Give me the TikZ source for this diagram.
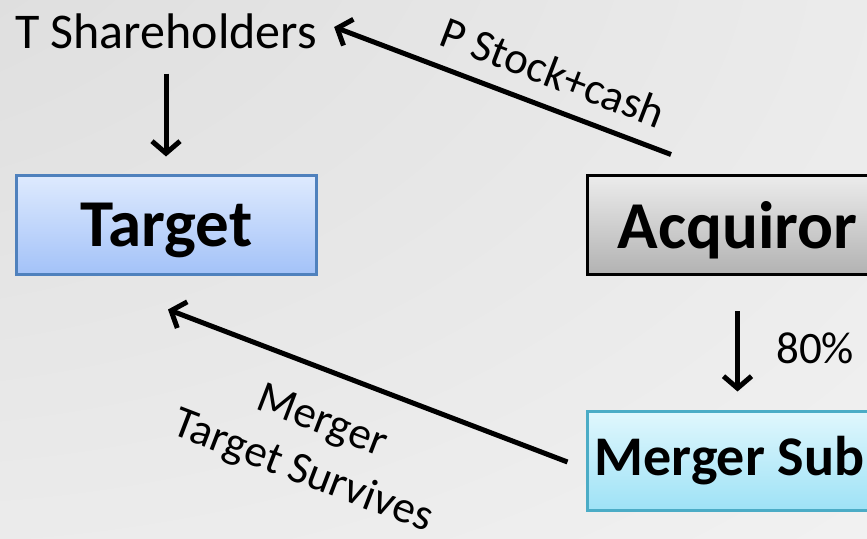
\documentclass[tikz,border=0pt]{standalone}
\usepackage{fontspec}
\setmainfont{Carlito}
\usetikzlibrary{arrows.meta}

\definecolor{tgtline}{RGB}{79,129,189}
\definecolor{tgttop}{RGB}{222,234,254}
\definecolor{tgtbot}{RGB}{163,194,248}
\definecolor{acqtop}{RGB}{236,236,236}
\definecolor{acqbot}{RGB}{178,178,178}
\definecolor{subline}{RGB}{75,172,198}
\definecolor{subtop}{RGB}{224,247,253}
\definecolor{subbot}{RGB}{158,226,246}

% grey glow, darkest in the upper left corner
\pgfdeclareradialshading{bgglow}{\pgfpoint{-50bp}{50bp}}{%
rgb(0bp)=(0.84,0.84,0.84); rgb(40bp)=(0.9,0.9,0.9); rgb(80bp)=(0.96,0.96,0.96); rgb(141bp)=(0.99,0.99,0.99)}

\begin{document}
\begin{tikzpicture}[x=1pt,y=1pt,
        box/.style={draw, line width=3pt, minimum width=300pt, minimum height=99pt, inner sep=0pt,
                font=\fontsize{67}{72}\selectfont\bfseries},
        arr/.style={line width=5pt, -{Straight Barb[length=12pt,width=28pt]}},
        lbl/.style={inner sep=0pt, font=\fontsize{45}{54}\selectfont}]
        \useasboundingbox (0,0) rectangle (867,538);
        \shade[shading=bgglow] (0,0) rectangle (867,538);

        \node[inner sep=0pt, font=\fontsize{50}{58}\selectfont] (sh) at (166,507) {T Shareholders};
        \node[box, text depth=0pt, tgtline, text=black, top color=tgttop, bottom color=tgtbot] (target) at (166.5,313) {Target};
        \node[box, text depth=0pt, black, top color=acqtop, bottom color=acqbot] (acq) at (737.5,313) {Acquiror};
        \node[box, minimum width=284pt, subline, text=black, top color=subtop, bottom color=subbot,
                font=\fontsize{56}{62}\selectfont\bfseries] (sub) at (729.5,77) {Merger Sub};

        % Ownership.
        \draw[arr, shorten <=25pt, shorten >=17.5pt] (sh.south) -- (sh.south |- target.north);
        \draw[arr, shorten <=35.5pt, shorten >=18.5pt] (acq.south) -- (acq.south |- sub.north);
        \node[lbl, anchor=west] (pct) at (776,190) {80\%};

        % Consideration and merger.
        \draw[arr] ([xshift=-66.5pt,yshift=19.5pt]acq.north) -- ([xshift=17pt,yshift=4pt]sh.east);
        \node[lbl, rotate=-21] (pay) at (553,466) {P Stock+cash};
        \draw[arr] ([xshift=-18.5pt,yshift=-1pt]sub.west) -- ([xshift=1.5pt,yshift=-33.5pt]target.south);
        \node[lbl, rotate=-21, align=center] (mrg) at (312,90) {Merger\\Target Survives};
\end{tikzpicture}
\end{document}
